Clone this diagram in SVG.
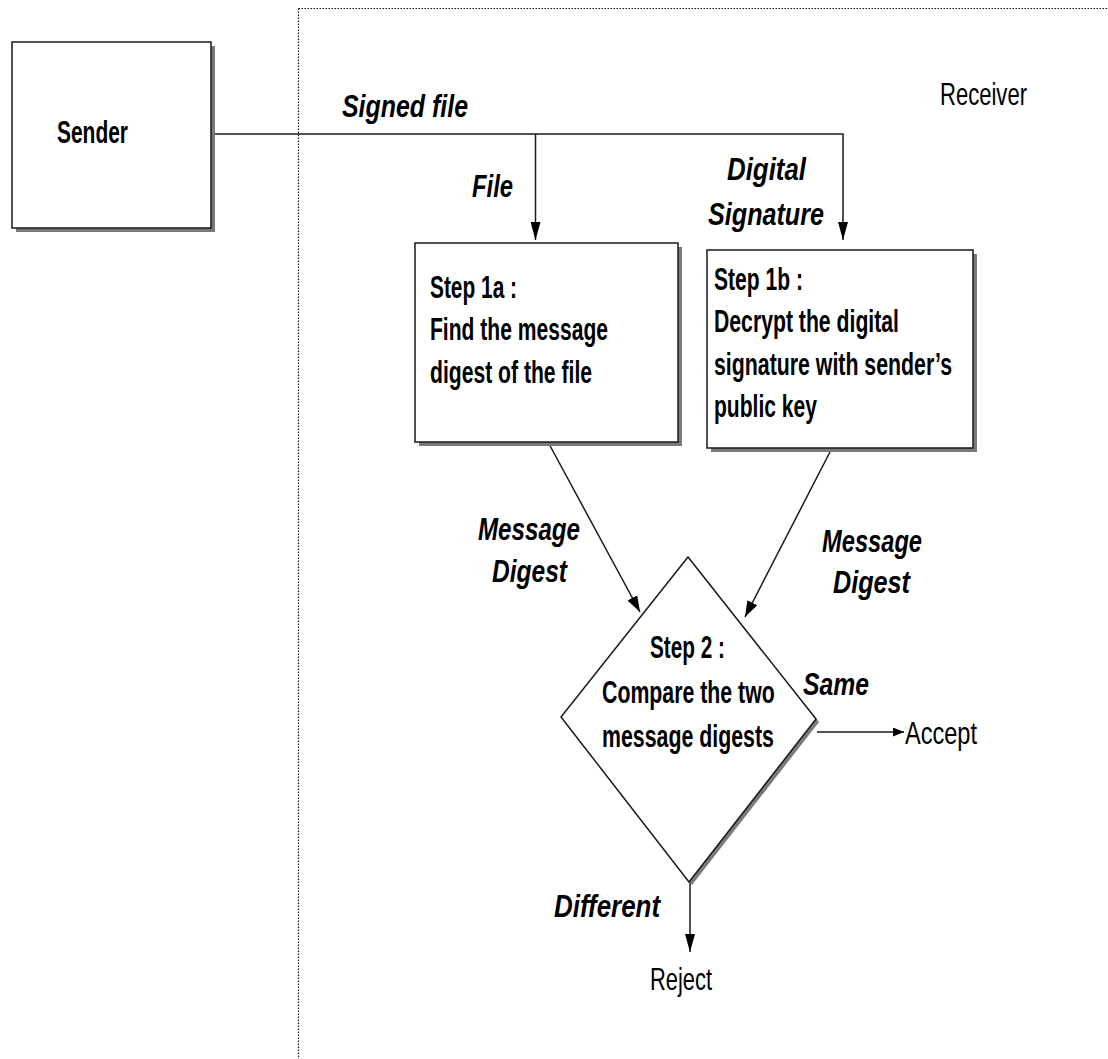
<svg xmlns="http://www.w3.org/2000/svg" width="1108" height="1059" viewBox="0 0 1108 1059">
<style>
  text { font-family: "Liberation Sans", Arial, sans-serif; font-size: 32px; fill: #000; }
  .b { font-weight: bold; }
  .bi { font-weight: bold; font-style: italic; }
  .box { fill: #fff; stroke: #1a1a1a; stroke-width: 1.5; }
  .shadow { fill: #7a7a7a; stroke: none; }
  .conn { fill: none; stroke: #1a1a1a; stroke-width: 1.5; }
  .dot { fill: none; stroke: #111; stroke-width: 1.2; stroke-dasharray: 1.5 1.5; }
</style>
<defs>
  <marker id="arrV" markerUnits="userSpaceOnUse" markerWidth="18" markerHeight="10" refX="18" refY="5" orient="auto">
    <path d="M0,0 L18,5 L0,10 z" fill="#000"/>
  </marker>
  <marker id="arrD" markerUnits="userSpaceOnUse" markerWidth="16" markerHeight="11" refX="16" refY="5.5" orient="auto">
    <path d="M0,0 L16,5.5 L0,11 z" fill="#000"/>
  </marker>
  <marker id="arrH" markerUnits="userSpaceOnUse" markerWidth="11" markerHeight="9" refX="11" refY="4.5" orient="auto">
    <path d="M0,0 L11,4.5 L0,9 z" fill="#000"/>
  </marker>
</defs>
<rect width="1108" height="1059" fill="#fff"/>

<g id="receiver-boundary">
  <line class="dot" x1="298.5" y1="8.5" x2="298.5" y2="1059"/>
  <line class="dot" x1="298.5" y1="8.5" x2="1108" y2="8.5"/>
  <text x="940" y="105" font-size="30" textLength="87" lengthAdjust="spacingAndGlyphs">Receiver</text>
</g>

<g id="connectors">
  <path class="conn" d="M211,134 H843 V240" stroke-width="2" marker-end="url(#arrV)"/>
  <path class="conn" d="M535.5,134 V240" marker-end="url(#arrV)"/>
  <path class="conn" d="M548,442 L640,612" marker-end="url(#arrD)"/>
  <path class="conn" d="M832,448 L745,617" marker-end="url(#arrD)"/>
  <path class="conn" d="M817,732 H904" marker-end="url(#arrH)"/>
  <path class="conn" d="M690,882 V952" marker-end="url(#arrV)"/>
  <text class="bi" x="342" y="117" textLength="126" lengthAdjust="spacingAndGlyphs">Signed file</text>
  <text class="bi" x="472" y="197" textLength="41" lengthAdjust="spacingAndGlyphs">File</text>
  <text class="bi" x="727" y="180" textLength="79" lengthAdjust="spacingAndGlyphs">Digital</text>
  <text class="bi" x="708" y="225" textLength="116" lengthAdjust="spacingAndGlyphs">Signature</text>
  <text class="bi" x="478" y="540" textLength="102" lengthAdjust="spacingAndGlyphs">Message</text>
  <text class="bi" x="492" y="582" textLength="75" lengthAdjust="spacingAndGlyphs">Digest</text>
  <text class="bi" x="822" y="552" textLength="100" lengthAdjust="spacingAndGlyphs">Message</text>
  <text class="bi" x="833" y="593" textLength="77" lengthAdjust="spacingAndGlyphs">Digest</text>
  <text class="bi" transform="translate(803,695) scale(0.773,1)">Same</text>
  <text class="bi" x="554" y="917" textLength="106" lengthAdjust="spacingAndGlyphs">Different</text>
</g>

<g id="sender">
  <rect class="shadow" x="16" y="46" width="199" height="186"/>
  <rect class="box" x="12" y="42" width="199" height="186"/>
  <text class="b" x="57" y="143" textLength="71" lengthAdjust="spacingAndGlyphs">Sender</text>
</g>

<g id="step1a">
  <rect class="shadow" x="419" y="247" width="263" height="199"/>
  <rect class="box" x="415" y="243" width="263" height="199"/>
  <text class="b" x="430" y="298" textLength="87" lengthAdjust="spacingAndGlyphs">Step 1a :</text>
  <text class="b" x="430" y="340" textLength="178" lengthAdjust="spacingAndGlyphs">Find the message</text>
  <text class="b" x="430" y="383" textLength="162" lengthAdjust="spacingAndGlyphs">digest of the file</text>
</g>

<g id="step1b">
  <rect class="shadow" x="711" y="254" width="266" height="198"/>
  <rect class="box" x="707" y="250" width="266" height="198"/>
  <text class="b" x="714" y="290" textLength="89" lengthAdjust="spacingAndGlyphs">Step 1b :</text>
  <text class="b" x="714" y="332" textLength="185" lengthAdjust="spacingAndGlyphs">Decrypt the digital</text>
  <text class="b" x="714" y="375" textLength="238" lengthAdjust="spacingAndGlyphs">signature with sender’s</text>
  <text class="b" x="714" y="417" textLength="103" lengthAdjust="spacingAndGlyphs">public key</text>
</g>

<g id="step2">
  <polygon class="shadow" points="691,560 819,722 692,885 564,720"/>
  <polygon class="box" points="688,557 816,719 689,882 561,717" stroke-width="1.2"/>
  <text class="b" transform="translate(650,658) scale(0.649,1)">Step 2 :</text>
  <text class="b" transform="translate(602,703) scale(0.666,1)">Compare the two</text>
  <text class="b" transform="translate(602,747) scale(0.667,1)">message digests</text>
</g>

<g id="accept">
  <text x="905" y="744" textLength="72" lengthAdjust="spacingAndGlyphs">Accept</text>
</g>

<g id="reject">
  <text x="650" y="990" textLength="62" lengthAdjust="spacingAndGlyphs">Reject</text>
</g>
</svg>
